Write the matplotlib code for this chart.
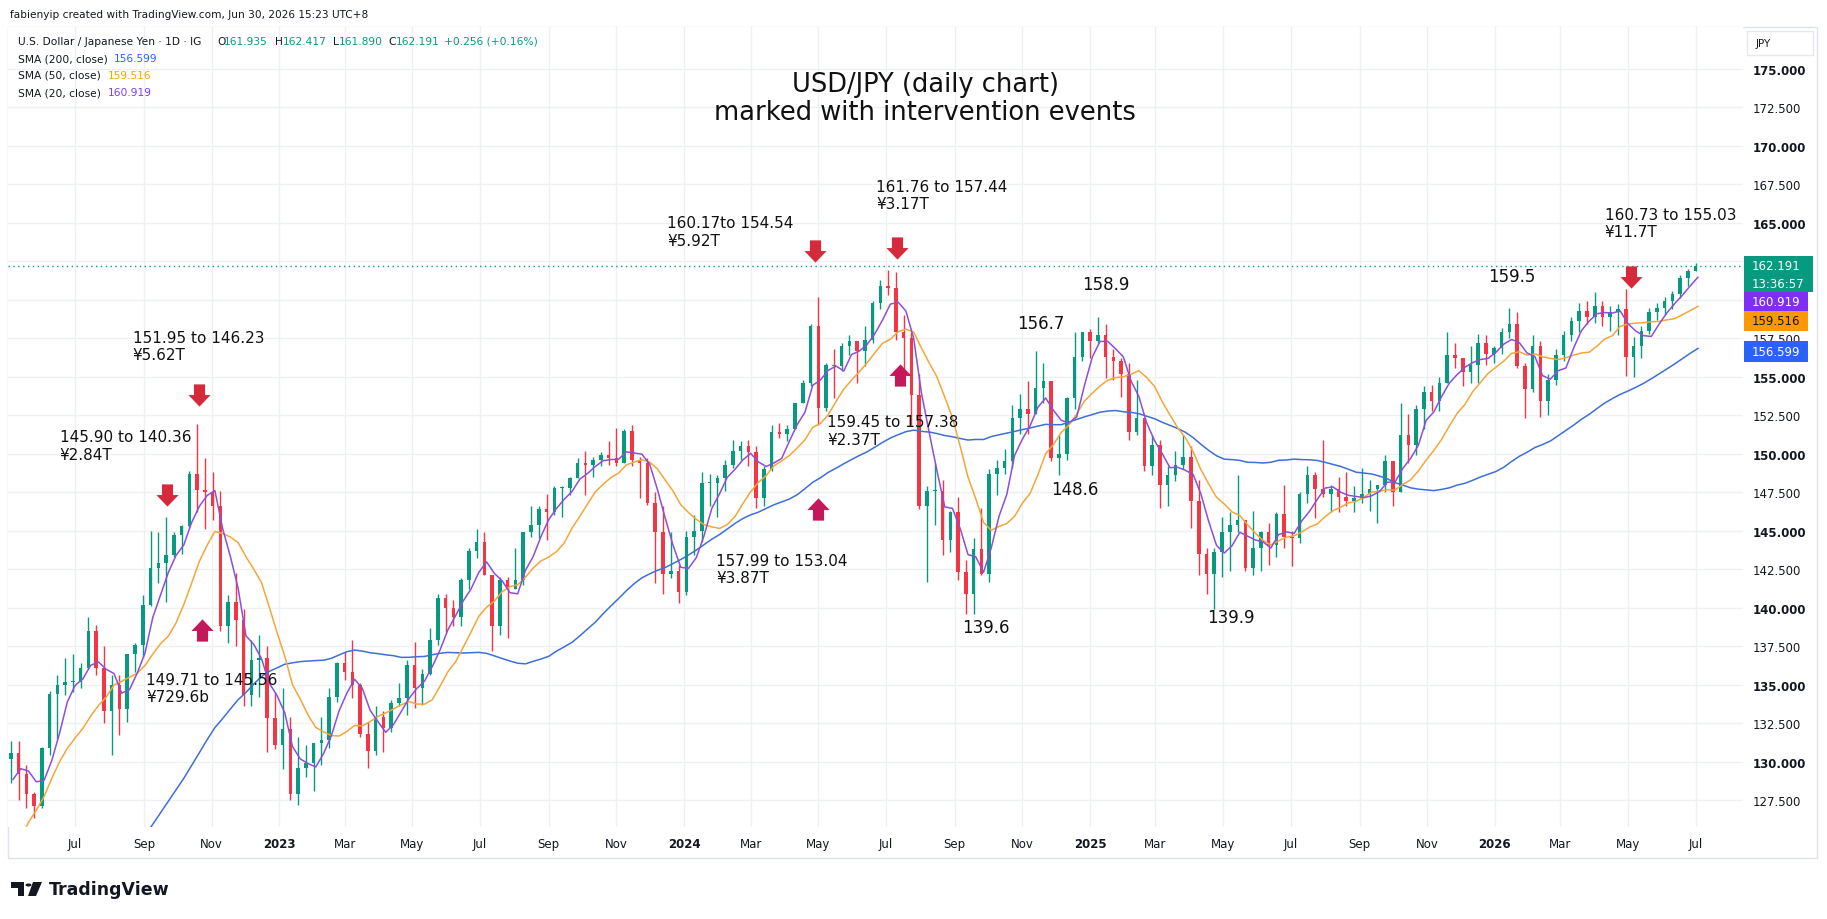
import numpy as np
import pandas as pd
import matplotlib
matplotlib.use("Agg")
import matplotlib.pyplot as plt
from matplotlib.patches import Rectangle, Polygon, Circle
from matplotlib.path import Path

plt.rcParams['font.family'] = ['DejaVu Sans']

W, H = 1827, 920


def fx(x):
    return x / W


def fy(y):
    return 1 - y / H


# weekly candles: (high, low, close), weeks start on Monday
# open of a week = close of the week before
first_open = 130.2
wk_2022 = [
    (131.35, 128.60, 130.55), (131.35, 127.50, 129.20), (129.80, 127.00, 127.90), (128.00, 126.36, 127.10),
    (130.98, 127.00, 130.90), (134.56, 130.40, 134.40), (135.60, 131.50, 135.00), (136.70, 134.30, 135.20),
    (137.00, 134.50, 135.20), (136.40, 134.80, 136.10), (139.40, 136.00, 138.50), (138.90, 135.60, 136.10),
    (137.50, 132.50, 133.30), (135.60, 130.40, 135.00), (135.60, 131.70, 133.40), (137.00, 132.60, 137.00),
    (137.70, 135.80, 137.60), (140.80, 136.80, 140.20), (144.99, 140.10, 142.60), (144.95, 141.60, 142.90),
    (145.90, 140.36, 143.40), (144.90, 143.30, 144.70), (145.40, 143.50, 145.30), (148.86, 145.20, 148.70),
    (151.95, 146.23, 147.65), (149.71, 145.10, 147.50), (148.80, 145.70, 146.60), (147.60, 138.50, 138.80),
    (140.80, 137.70, 140.40), (142.25, 137.50, 139.20), (139.90, 133.60, 134.30), (137.90, 133.60, 136.60),
    (138.20, 134.20, 136.70), (137.50, 130.60, 132.80), (134.50, 130.80, 131.10),
]
wk_2023 = [
    (134.80, 129.50, 132.10), (132.90, 127.50, 127.90), (131.60, 127.20, 129.60), (131.10, 129.00, 129.90),
    (131.20, 128.10, 131.20), (132.90, 129.80, 131.40), (134.80, 130.90, 134.20), (136.50, 133.90, 136.40),
    (137.10, 135.30, 135.80), (137.90, 134.10, 135.00), (135.10, 131.60, 131.80), (132.60, 129.60, 130.70),
    (133.60, 130.40, 132.90), (133.30, 130.60, 132.20), (134.00, 131.90, 133.80), (135.10, 133.60, 134.10),
    (136.60, 133.00, 136.30), (137.80, 133.50, 134.80), (136.00, 133.70, 135.70), (138.70, 135.60, 137.90),
    (140.90, 137.60, 140.60), (140.90, 138.40, 140.00), (140.50, 138.80, 139.40), (141.90, 138.80, 141.80),
    (143.90, 141.20, 143.70), (145.10, 143.20, 144.30), (144.90, 142.10, 142.10), (142.00, 137.20, 138.80),
    (142.00, 138.20, 141.80), (142.00, 138.00, 141.20), (143.90, 141.50, 141.80), (144.90, 141.50, 144.90),
    (146.60, 144.60, 145.40), (146.60, 144.50, 146.40), (147.40, 144.40, 146.20), (147.90, 146.00, 147.80),
    (147.90, 145.90, 147.80), (148.50, 147.30, 148.40), (149.70, 148.40, 149.40), (150.20, 147.30, 149.30),
    (149.80, 148.50, 149.60), (150.10, 149.20, 149.90), (150.80, 149.30, 149.70), (151.70, 149.20, 149.40),
    (151.60, 149.90, 151.50), (151.90, 149.20, 149.60), (149.80, 147.10, 149.40), (149.70, 146.70, 146.80),
    (147.50, 141.60, 144.90), (146.60, 140.90, 142.20), (144.90, 141.90, 142.40), (142.80, 140.30, 141.00),
]
wk_2024 = [
    (145.00, 140.80, 144.60), (146.00, 143.40, 145.00), (148.80, 144.30, 148.10), (148.70, 146.60, 148.10),
    (148.60, 145.90, 148.40), (149.60, 147.60, 149.30), (150.90, 149.10, 150.20), (150.80, 149.60, 150.50),
    (150.90, 149.20, 150.10), (150.50, 146.50, 147.10), (149.20, 146.60, 149.00), (151.90, 148.90, 151.40),
    (151.97, 151.00, 151.30), (151.90, 150.80, 151.60), (153.30, 151.60, 153.30), (154.80, 153.60, 154.60),
    (158.40, 154.40, 158.30), (160.17, 151.90, 153.00), (155.90, 152.80, 155.80), (156.80, 153.60, 155.70),
    (157.20, 155.40, 157.00), (157.70, 156.40, 157.30), (157.30, 154.60, 156.70), (158.30, 155.70, 157.40),
    (159.90, 157.20, 159.80), (161.30, 159.40, 160.90), (161.95, 160.30, 160.80), (161.80, 157.40, 157.90),
    (159.00, 155.40, 157.50), (157.90, 151.90, 153.80), (155.20, 146.40, 146.60), (147.90, 141.70, 147.60),
    (149.40, 145.40, 147.60), (148.30, 143.40, 144.40), (146.30, 143.60, 146.20), (147.20, 141.80, 142.30),
    (143.10, 139.60, 140.90), (144.50, 139.58, 143.80), (146.50, 142.10, 142.20), (149.00, 141.70, 148.70),
    (149.60, 147.30, 149.10), (150.30, 148.70, 149.50), (153.20, 149.10, 152.30), (153.90, 151.30, 152.90),
    (154.70, 151.30, 152.60), (156.70, 152.60, 154.30), (155.90, 153.30, 154.70), (154.70, 149.50, 149.70),
    (151.20, 148.65, 150.00), (153.70, 149.60, 153.60), (157.90, 152.90, 156.30), (157.90, 156.00, 157.90),
    (158.10, 156.20, 157.30),
]
wk_2025 = [
    (158.90, 157.20, 157.70), (158.40, 154.90, 156.30), (156.80, 154.80, 156.00), (156.20, 153.70, 155.20),
    (155.90, 150.90, 151.40), (154.80, 151.20, 152.30), (152.00, 148.90, 149.20), (151.20, 148.60, 150.60),
    (150.90, 146.50, 148.00), (149.20, 146.60, 148.60), (150.20, 148.20, 149.30), (151.20, 149.00, 149.80),
    (150.50, 145.20, 146.90), (148.30, 142.10, 143.50), (143.90, 140.90, 142.20), (143.90, 139.90, 143.60),
    (145.90, 142.00, 144.90), (146.20, 142.40, 145.40), (148.60, 144.90, 145.70), (145.00, 142.40, 142.60),
    (146.30, 142.10, 143.90), (145.00, 142.40, 144.90), (145.50, 142.80, 144.10), (146.20, 143.30, 146.10),
    (148.00, 143.90, 144.60), (145.00, 142.70, 144.50), (147.50, 144.20, 147.40), (149.20, 146.80, 148.60),
    (148.80, 145.80, 147.70), (150.90, 147.20, 147.40), (148.00, 146.20, 147.70), (148.50, 146.20, 147.20),
    (148.80, 146.60, 146.90), (147.90, 146.20, 147.10), (149.10, 146.80, 147.40), (148.30, 146.30, 147.70),
    (148.00, 145.50, 148.00), (149.90, 147.50, 149.50), (149.40, 146.60, 147.50), (153.30, 149.50, 151.20),
    (152.60, 149.40, 150.60), (153.20, 149.90, 152.90), (154.40, 151.60, 154.00), (154.50, 152.80, 153.40),
    (155.00, 152.80, 154.60), (157.90, 154.60, 156.40), (157.20, 155.60, 156.20), (156.20, 154.40, 155.30),
    (157.00, 154.60, 155.80), (157.80, 154.60, 157.20), (157.70, 155.80, 156.50), (157.00, 155.90, 156.90),
]
wk_2026 = [
    (158.20, 156.50, 157.90), (159.50, 157.50, 158.40), (159.20, 155.60, 155.70), (155.90, 152.30, 154.20),
    (157.70, 154.00, 157.00), (157.30, 152.40, 153.40), (155.20, 152.50, 154.80), (156.80, 154.50, 156.40),
    (158.00, 156.00, 157.70), (158.90, 157.30, 158.60), (159.80, 157.90, 159.30), (159.90, 158.40, 158.90),
    (160.50, 158.50, 159.60), (159.90, 158.30, 158.90), (159.60, 158.00, 159.20), (159.70, 157.70, 159.40),
    (160.73, 155.03, 156.30), (157.60, 155.00, 157.00), (158.30, 156.20, 158.00), (159.50, 157.80, 159.20),
    (159.80, 158.70, 159.50), (160.20, 159.00, 159.90), (160.60, 159.40, 160.40), (161.60, 160.10, 161.40),
    (162.00, 160.90, 161.90), (162.42, 161.89, 162.19),
]
# weekly closes before the visible window (Aug 2021 - Apr 2022), only used to warm up the SMAs
prior_closes = [110.2, 109.6, 109.8, 109.8, 109.7, 109.9, 109.9, 110.7, 111.0, 112.2,
                114.2, 113.5, 114.0, 113.4, 113.9, 114.0, 113.4, 112.8, 113.4, 113.7,
                114.4, 115.1, 115.6, 114.2, 113.7, 115.3, 115.2, 115.4, 115.0, 115.6,
                114.8, 117.3, 119.2, 122.1, 122.5, 124.3, 126.4, 128.5, 129.9]

# intervention marks
arrows_down = [('2022-09-22', 147.3), ('2022-10-21', 153.8), ('2024-04-28', 163.2),
               ('2024-07-11', 163.4), ('2026-05-04', 161.5)]
arrows_up = [('2022-10-23', 138.55), ('2024-05-01', 146.4), ('2024-07-14', 155.15)]
notes = [
    ("145.90 to 140.36\n¥2.84T", '2022-06-17', 150.55),
    ("151.95 to 146.23\n¥5.62T", '2022-08-22', 157.0),
    ("149.71 to 145.56\n¥729.6b", '2022-09-03', 134.8),
    ("160.17to 154.54\n¥5.92T", '2023-12-17', 164.45),
    ("157.99 to 153.04\n¥3.87T", '2024-01-30', 142.5),
    ("161.76 to 157.44\n¥3.17T", '2024-06-22', 166.8),
    ("159.45 to 157.38\n¥2.37T", '2024-05-09', 151.5),
    ("160.73 to 155.03\n¥11.7T", '2026-04-10', 165.0),
]
swing_labels = [("139.6", '2024-09-08', 138.75), ("156.7", '2024-10-27', 158.5),
                ("158.9", '2024-12-25', 161.0), ("148.6", '2024-11-27', 147.7),
                ("139.9", '2025-04-17', 139.4), ("159.5", '2025-12-26', 161.55)]

hlc = np.array(wk_2022 + wk_2023 + wk_2024 + wk_2025 + wk_2026)
highs, lows, closes = hlc[:, 0], hlc[:, 1], hlc[:, 2]
opens = np.r_[first_open, closes[:-1]]
highs = np.maximum(highs, np.maximum(opens, closes))
lows = np.minimum(lows, np.minimum(opens, closes))
weeks = pd.date_range('2022-05-02', periods=len(closes), freq='W-MON')
mid = weeks + pd.Timedelta(days=2)
wend = weeks + pd.Timedelta(days=4)

allc = pd.Series(np.r_[prior_closes, closes])
n0 = len(prior_closes)
sma20 = allc.rolling(4).mean().to_numpy()[n0:]
sma50 = allc.rolling(10).mean().to_numpy()[n0:]
sma200 = allc.rolling(40).mean().to_numpy()[n0:]

fig = plt.figure(figsize=(W / 100, H / 100), dpi=100)
fig.patch.set_facecolor('white')
ax = fig.add_axes([fx(8), fy(828), (1743 - 8) / W, (828 - 28) / H])

up = closes >= opens
col = np.where(up, '#089981', '#f23645')
ax.vlines(mid, lows, highs, colors=col, lw=1, zorder=2)
body = np.maximum(np.abs(closes - opens), 0.06)
ax.bar(mid, body, bottom=np.minimum(opens, closes), width=3.2, color=col, lw=0, zorder=3)

ax.plot(wend, sma200, color='#3e6fd6', lw=1.1, zorder=4)
ax.plot(wend, sma50, color='#f2a73b', lw=1.1, zorder=4)
ax.plot(wend, sma20, color='#8c4fd6', lw=1.1, zorder=4)

ax.axhline(162.191, color='#089981', lw=1, ls=(0, (1, 2.5)), zorder=1.5)

ax.set_ylim(125.75, 177.73)
ax.set_xlim(pd.Timestamp('2022-05-01 12:00'), pd.Timestamp('2026-08-12 16:00'))

yt = np.arange(127.5, 175.1, 2.5)
ax.set_yticks(yt)
# 160.000 and 162.500 sit under the last-value tags, as on the original
ax.set_yticklabels(['' if v in (160.0, 162.5) else f'{v:.3f}' for v in yt])
ax.yaxis.tick_right()
ax.tick_params(axis='y', length=0, pad=7, labelsize=8.5, labelcolor='#131722')
for t, v in zip(ax.get_yticklabels(), yt):
    if v % 5 == 0:
        t.set_fontweight('bold')

xt = pd.date_range('2022-07-01', '2026-07-01', freq='2MS')
ax.set_xticks(xt)
ax.set_xticklabels([str(d.year) if d.month == 1 else d.strftime('%b') for d in xt])
ax.tick_params(axis='x', length=0, pad=7, labelsize=8.5, labelcolor='#131722')
for t, d in zip(ax.get_xticklabels(), xt):
    if d.month == 1:
        t.set_fontweight('bold')

ax.grid(True, color='#eef0f3', lw=1)
ax.set_axisbelow(True)
for s in ax.spines.values():
    s.set_visible(False)

# block arrows as custom markers
down_verts = [(-0.25, 0.5), (0.25, 0.5), (0.25, 0.02), (0.5, 0.02), (0, -0.5),
              (-0.5, 0.02), (-0.25, 0.02), (-0.25, 0.5)]
codes = [Path.MOVETO] + [Path.LINETO] * 6 + [Path.CLOSEPOLY]
down_mk = Path(down_verts, codes)
up_mk = Path([(x, -y) for x, y in down_verts], codes)
for d, p in arrows_down:
    ax.plot(pd.Timestamp(d), p, marker=down_mk, ms=16, color='#d42a3c', mec='none', ls='none', zorder=6)
for d, p in arrows_up:
    ax.plot(pd.Timestamp(d), p, marker=up_mk, ms=16, color='#c4185a', mec='none', ls='none', zorder=6)

for txt, d, p in notes:
    ax.text(pd.Timestamp(d), p, txt, fontsize=11, color='#111111', ha='left', va='center',
            linespacing=1.2, zorder=7)
for txt, d, p in swing_labels:
    ax.text(pd.Timestamp(d), p, txt, fontsize=12, color='#111111', ha='left', va='center', zorder=7)

# title
fig.text(fx(925), fy(99), "USD/JPY (daily chart)\nmarked with intervention events",
         ha='center', va='center', fontsize=18.5, linespacing=1.1, color='#111111')

# header and legend block
fig.text(fx(10), fy(15), "fabienyip created with TradingView.com, Jun 30, 2026 15:23 UTC+8",
         fontsize=7.6, va='center', color='#131722')
lg = dict(fontsize=7.7, va='center')
green = '#089981'
fig.text(fx(18), fy(42), "U.S. Dollar / Japanese Yen · 1D · IG", color='#131722', **lg)
for lab, xl, val, xv in [("O", 217, "161.935", 224), ("H", 275, "162.417", 283),
                         ("L", 333, "161.890", 339), ("C", 388, "162.191", 396)]:
    fig.text(fx(xl), fy(42), lab, color='#131722', **lg)
    fig.text(fx(xv), fy(42), val, color=green, **lg)
fig.text(fx(444), fy(42), "+0.256 (+0.16%)", color=green, **lg)
for name, val, c, y, xv in [("SMA (200, close)", "156.599", '#2962ff', 59, 114),
                            ("SMA (50, close)", "159.516", '#f7a600', 76, 108),
                            ("SMA (20, close)", "160.919", '#7e3ff2', 93, 108)]:
    fig.text(fx(18), fy(y), name, color='#131722', **lg)
    fig.text(fx(xv), fy(y), val, color=c, **lg)

# current-value tags on the price scale
tags = [("162.191", '#089981', 257, 293, 'white'), ("160.919", '#7e2ff5', 293, 312, 'white'),
        ("159.516", '#ff9800', 312, 332, '#131722'), ("156.599", '#2962ff', 342, 363, 'white')]
for txt, c, y0, y1, tc in tags:
    x1 = 1813 if txt == "162.191" else 1808
    fig.add_artist(Rectangle((fx(1744), fy(y1)), (x1 - 1744) / W, (y1 - y0) / H,
                             transform=fig.transFigure, fc=c, ec='none', zorder=8))
    ty = 266 if txt == "162.191" else (y0 + y1) / 2
    fig.text(fx(1752), fy(ty), txt, color=tc, fontsize=8.5, va='center', zorder=9)
fig.text(fx(1752), fy(284), "13:36:57", color='white', fontsize=8.5, va='center', zorder=9)

fig.add_artist(Rectangle((fx(1747), fy(56)), 66 / W, 24 / H, transform=fig.transFigure,
                         fc='white', ec='#e6e8ec', lw=1, zorder=8))
fig.text(fx(1756), fy(44), "JPY", fontsize=7.5, color='#131722', va='center', zorder=9)

# panel frame
fig.add_artist(Rectangle((fx(8), fy(859)), (1817 - 8) / W, (859 - 28) / H, transform=fig.transFigure,
                         fill=False, ec='#e0e3eb', lw=1, zorder=0))

# TradingView logo
logo = '#131722'
fig.add_artist(Polygon([(fx(11), fy(883)), (fx(24), fy(883)), (fx(24), fy(897)), (fx(18), fy(897)),
                        (fx(18), fy(889)), (fx(11), fy(889))], closed=True,
                       transform=fig.transFigure, fc=logo, ec='none'))
fig.add_artist(Circle((fx(28.5), fy(886)), 3 / W, transform=fig.transFigure, fc=logo, ec='none'))
fig.add_artist(Polygon([(fx(33), fy(883)), (fx(42), fy(883)), (fx(36), fy(897)), (fx(28), fy(897))],
                       closed=True, transform=fig.transFigure, fc=logo, ec='none'))
fig.text(fx(49), fy(890), "TradingView", fontsize=12.5, fontweight='bold', color=logo, va='center')

fig.savefig('out.png', dpi=100)
